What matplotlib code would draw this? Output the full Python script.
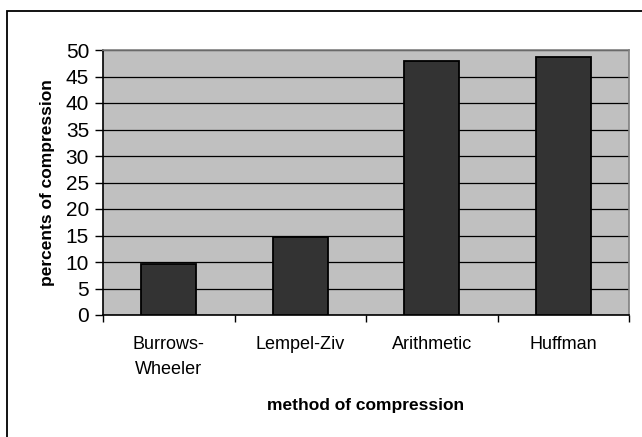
import matplotlib.pyplot as plt
import matplotlib.patches as patches
import numpy as np

plt.rcParams["font.family"] = ["Liberation Sans", "DejaVu Sans"]

# Data
methods = ["Burrows-\nWheeler", "Lempel-Ziv", "Arithmetic", "Huffman"]
percents = [9.6, 14.7, 47.9, 48.7]
y_ticks = list(range(0, 51, 5))

fig = plt.figure(figsize=(6.42, 4.37), dpi=100)
fig.set_facecolor("white")

# Outer chart frame
frame = patches.Rectangle(
    (7 / 642, -0.05),
    1.2,
    (437 - 11) / 437 + 0.05,
    transform=fig.transFigure,
    fill=False,
    edgecolor="black",
    linewidth=1.3,
    zorder=0,
)
fig.patches.append(frame)

ax = fig.add_axes([103 / 642, (437 - 315) / 437, 526 / 642, 265 / 437])
ax.set_facecolor("#C0C0C0")

x = np.arange(len(methods))
ax.bar(x, percents, width=0.42, color="#333333", edgecolor="black", linewidth=1.3, zorder=3)

ax.set_xlim(-0.5, len(methods) - 0.5)
ax.set_ylim(0, 50)

# Gridlines
ax.set_yticks(y_ticks)
ax.yaxis.grid(True, color="black", linewidth=0.9)
ax.set_axisbelow(True)

ax.tick_params(axis="y", labelsize=15, length=6, width=1, direction="out", pad=4)
ax.set_xticks(x)
ax.set_xticklabels(methods, fontsize=13, linespacing=1.6)
ax.tick_params(axis="x", which="major", length=0, pad=15)
ax.set_xticks(np.arange(-0.5, len(methods)), minor=True)
ax.tick_params(axis="x", which="minor", length=5, width=1, direction="out")

for side in ["top", "right"]:
    ax.spines[side].set_color("#808080")
    ax.spines[side].set_linewidth(1.2)
for side in ["left", "bottom"]:
    ax.spines[side].set_color("black")
    ax.spines[side].set_linewidth(1.2)

ax.set_ylabel("percents of compression", fontsize=12.5, fontweight="bold", labelpad=8)
ax.set_xlabel("method of compression", fontsize=12.5, fontweight="bold", labelpad=15)

plt.savefig("out.png", dpi=100)
